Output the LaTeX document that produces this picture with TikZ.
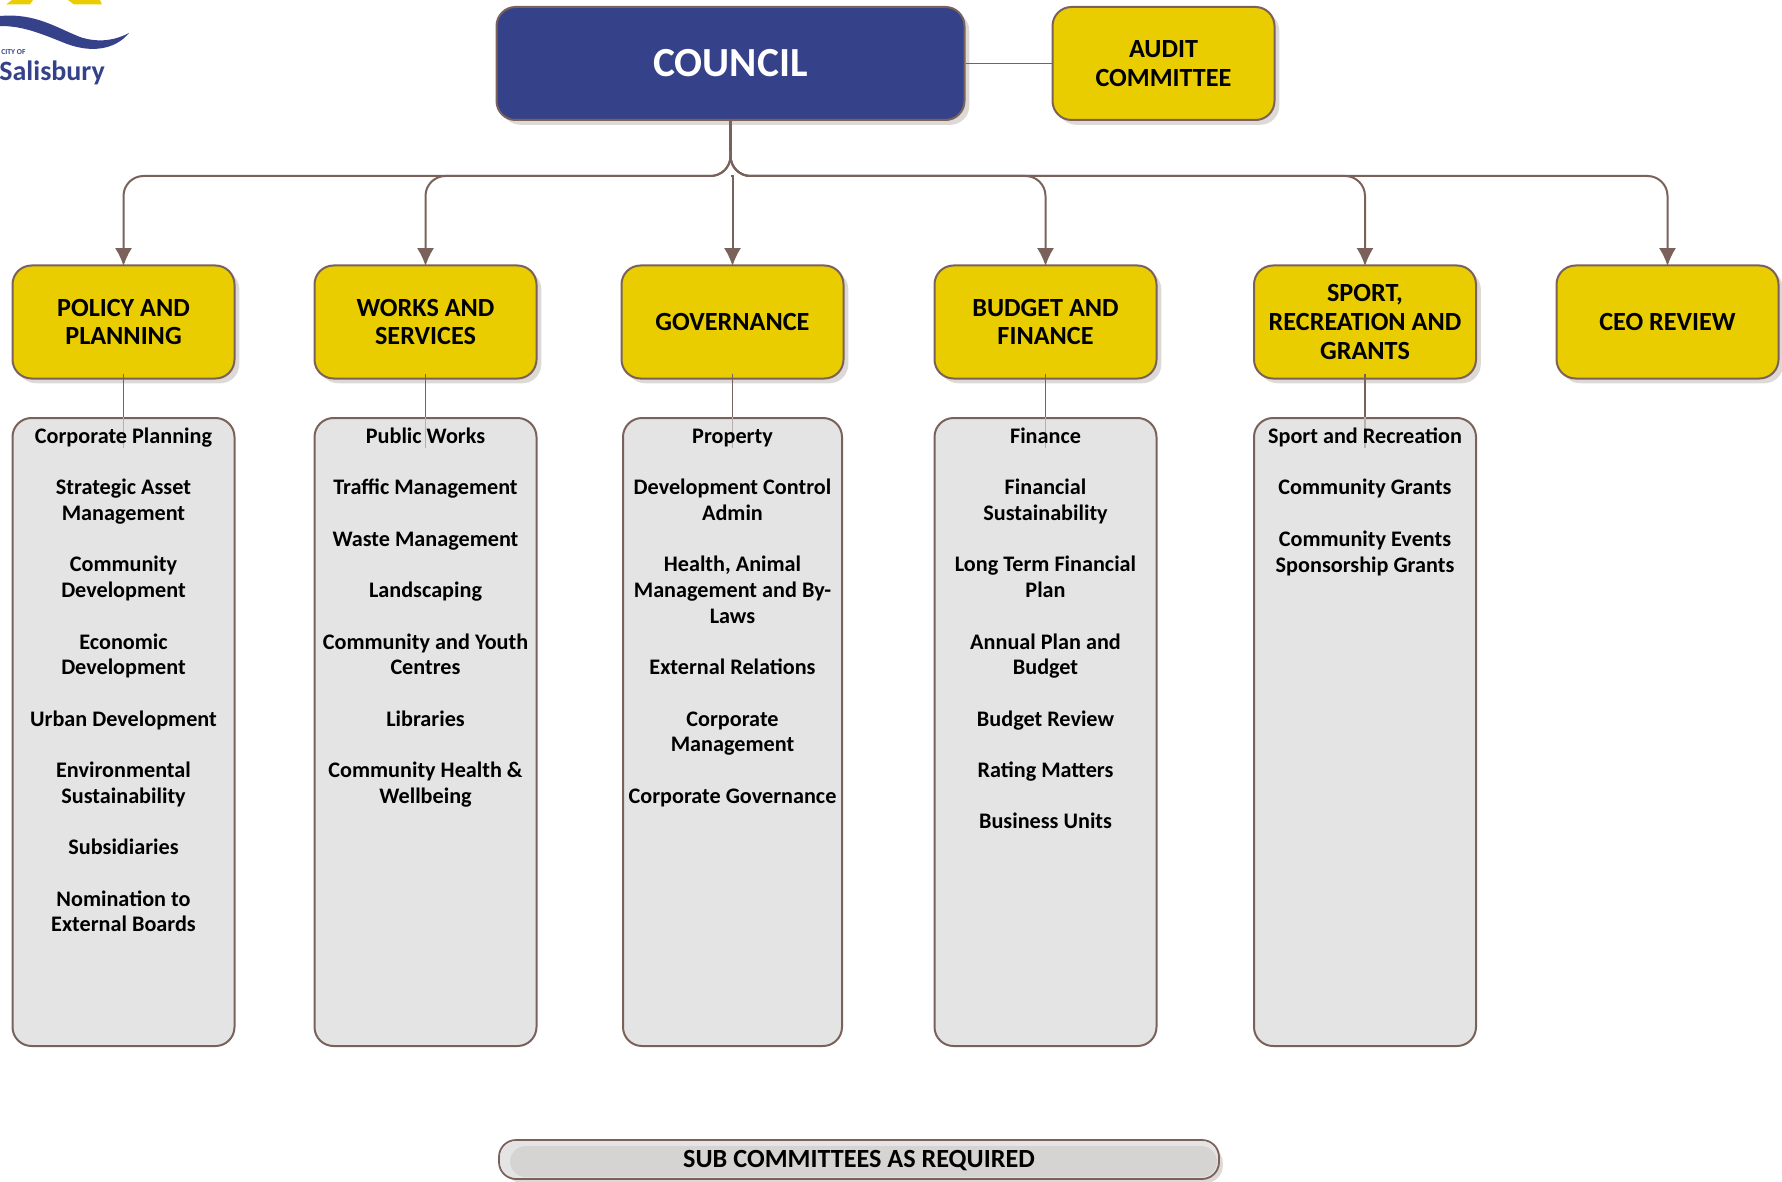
\documentclass[tikz,border=0pt]{standalone}
\usepackage{fontspec}
\setmainfont{Carlito}
\usetikzlibrary{arrows.meta,shadows}
\definecolor{cblue}{HTML}{35428A}
\definecolor{cyellow}{HTML}{E9CD00}
\definecolor{cline}{HTML}{7A625A}
\definecolor{cstem}{HTML}{B9B0AD}
\definecolor{cshadow}{HTML}{DDD9D7}
\definecolor{clist}{HTML}{E4E4E4}
\definecolor{cbar}{HTML}{D6D4D2}
\definecolor{cbarlight}{HTML}{E4E4E4}
\tikzset{
  boxshadow/.style={drop shadow={shadow xshift=2.4pt,shadow yshift=-2.4pt,opacity=1,fill=cshadow}},
  headbox/.style={draw=cline,line width=1pt,fill=cyellow,rounded corners=9.5pt,
    minimum width=111pt,minimum height=56.5pt,align=center,boxshadow,inner sep=0pt,
    font=\fontsize{13.1}{14.4}\selectfont\bfseries},
  listbox/.style={draw=cline,line width=1pt,fill=clist,rounded corners=9.5pt,
    minimum width=111pt,minimum height=314pt},
  listtext/.style={anchor=north,align=center,inner sep=0pt,
    font=\fontsize{11.1}{12.85}\selectfont\bfseries},
  feed/.style={draw=cline,line width=1pt,rounded corners=10pt,-{Latex[length=9pt,width=8.5pt]},shorten >=-.8pt},
  stem/.style={draw=cline,line width=.8pt},
  stemin/.style={draw=cstem,line width=.8pt},
}
\begin{document}
\begin{tikzpicture}[x=.5pt,y=-.5pt]
  \useasboundingbox (0,0) rectangle (1782,1182);

  % logo
  \fill[cyellow] (12,0) -- (33,0) -- (30,4.5) -- (6,4.5) -- cycle;
  \fill[cyellow] (68,0) -- (100,0) -- (102,4.5) -- (74,4.5) -- cycle;
  \fill[cblue] (0,16) .. controls (35,13) and (55,27) .. (80,37)
    .. controls (95,42) and (112,42) .. (129,33)
    .. controls (115,50) and (90,54) .. (62,42)
    .. controls (35,31) and (20,26) .. (0,26) -- cycle;
  \node[text=cblue,font=\fontsize{3.8}{4}\selectfont\bfseries,inner sep=0pt,anchor=west] (cityof) at (1,52) {CITY OF};
  \node[text=cblue,font=\fontsize{14}{16}\selectfont\bfseries,inner sep=0pt,anchor=west] (salisbury) at (-1,73) {Salisbury};

  \coordinate (bus) at (0,176);

  % top row
  \node[headbox,fill=cblue,text=white,minimum width=234pt,minimum height=56.5pt,
    font=\fontsize{20.7}{21}\selectfont\bfseries] (council) at (730.5,63.5) {COUNCIL};
  \node[headbox] (audit) at (1163.5,63.5) {AUDIT\\COMMITTEE};
  \draw[stem] (council) -- (audit);

  % committees
  \node[headbox] (policy) at (123.5,322) {POLICY AND\\PLANNING};
  \node[headbox] (works) at (425.5,322) {WORKS AND\\SERVICES};
  \node[headbox] (gov) at (732.5,322) {GOVERNANCE};
  \node[headbox] (budget) at (1045.5,322) {BUDGET AND\\FINANCE};
  \node[headbox] (sport) at (1365,322) {SPORT,\\RECREATION AND\\GRANTS};
  \node[headbox] (ceo) at (1667.5,322) {CEO REVIEW};

  \draw[feed] (council.south) -- (council.south |- bus) -| (policy.north);
  \draw[feed] (council.south) -- (council.south |- bus) -| (works.north);
  \draw[feed,rounded corners=0pt] (council.south |- bus) -| (gov.north);
  \draw[feed] (council.south) -- (council.south |- bus) -| (budget.north);
  \draw[feed] (council.south) -- (council.south |- bus) -| (sport.north);
  \draw[feed] (council.south) -- (council.south |- bus) -| (ceo.north);
  \draw[draw=cline,line width=1.3pt] (council.south) -- ++(0,30);

  % lists
  \node[listbox] (policylist) at (123.5,732) {};
  \node[listbox] (workslist) at (425.5,732) {};
  \node[listbox,minimum width=109.5pt] (govlist) at (732.5,732) {};
  \node[listbox] (budgetlist) at (1045.5,732) {};
  \node[listbox] (sportlist) at (1365,732) {};

  \draw[stem] (policy.south) ++(0,-6) coordinate (p0) -- (policylist.north);
  \draw[stem] (works.south) ++(0,-6) coordinate (w0) -- (workslist.north);
  \draw[stem] (gov.south) ++(0,-6) coordinate (g0) -- (govlist.north);
  \draw[stem] (budget.south) ++(0,-6) coordinate (b0) -- (budgetlist.north);
  \draw[stem] (sport.south) ++(0,-6) coordinate (s0) -- (sportlist.north);
  \draw[stemin] (policylist.north) -- ++(0,31);
  \draw[stemin] (workslist.north) -- ++(0,31);
  \draw[stemin] (govlist.north) -- ++(0,31);
  \draw[stemin] (budgetlist.north) -- ++(0,31);
  \draw[stemin] (sportlist.north) -- ++(0,31);

  \node[listtext] (policytext) at (123.5,427.5) {Corporate Planning\\ \\Strategic Asset\\Management\\ \\Community\\Development\\ \\Economic\\Development\\ \\Urban Development\\ \\Environmental\\Sustainability\\ \\Subsidiaries\\ \\Nomination to\\External Boards};
  \node[listtext] (workstext) at (425.5,427.5) {Public Works\\ \\Traffic Management\\ \\Waste Management\\ \\Landscaping\\ \\Community and Youth\\Centres\\ \\Libraries\\ \\Community Health \&\\Wellbeing};
  \node[listtext] (govtext) at (732.5,428.5) {Property\\ \\Development Control\\Admin\\ \\Health, Animal\\Management and By-\\Laws\\ \\External Relations\\ \\Corporate\\Management\\ \\Corporate Governance};
  \node[listtext] (budgettext) at (1045.5,427.5) {Finance\\ \\Financial\\Sustainability\\ \\Long Term Financial\\Plan\\ \\Annual Plan and\\Budget\\ \\Budget Review\\ \\Rating Matters\\ \\Business Units};
  \node[listtext] (sporttext) at (1365,427.5) {Sport and Recreation\\ \\Community Grants\\ \\Community Events\\Sponsorship Grants};

  % bottom bar
  \node[headbox,draw=none,fill=cbarlight,rounded corners=8.5pt,minimum width=359pt,minimum height=18.5pt] (subcom) at (859,1159.5) {};
  \fill[cbar,rounded corners=8pt] (510,1146) rectangle (1217,1177);
  \draw[draw=cline,line width=.9pt,rounded corners=8.5pt] (subcom.north west) rectangle (subcom.south east);
  \node[inner sep=0pt,font=\fontsize{13.1}{14}\selectfont\bfseries] (subtext) at (859,1161) {SUB COMMITTEES AS REQUIRED};
\end{tikzpicture}
\end{document}
